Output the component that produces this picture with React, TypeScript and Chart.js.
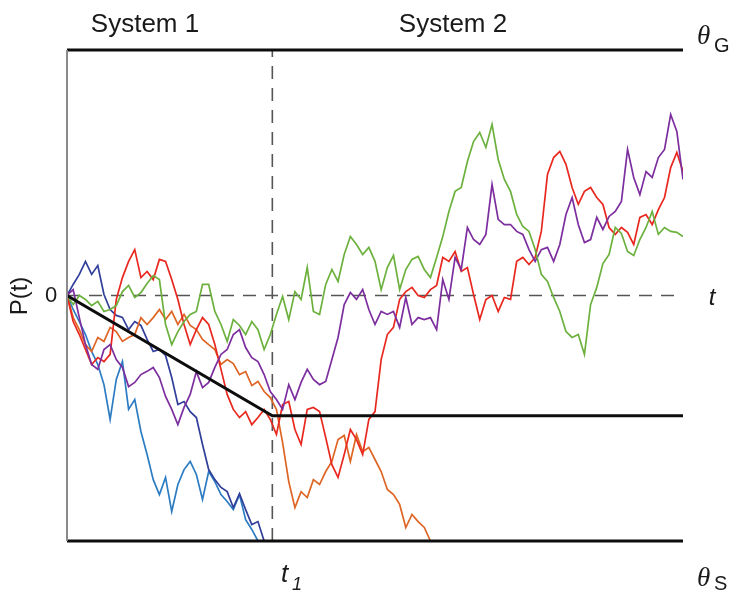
import React, { useEffect, useRef } from "react";
import { Chart, registerables } from "chart.js";

Chart.register(...registerables);

// Evidence P(t) sampled every STEP time units; thresholds at +/-100, switch at t1.
const STEP = 3;
const T_MAX = 300;
const T1 = 100;
const THETA = 100;
const BOUND_LEVEL = -49;

const lightBlue = [
  0, -5.7, -10.6, -15.9, -22.8, -28.1, -36.3, -50.5, -34.2, -26.9, -46.4, -42.4, -55.4, -64.8,
  -75, -81.1, -74.1, -88, -77, -70.9, -67.6, -72.9, -83.1, -71.7, -75.8, -81.1, -83.9, -87.2,
  -81.1, -91.3, -95.3, -100,
];

const darkBlue = [
  0, 4.5, 8.6, 13.9, 8.6, 12.2, 0.4, -5.7, -8.1, -8.9, -13.9, -10.6, -12.2, -17.9, -22.8, -22,
  -24.4, -33.4, -44.4, -43.2, -47.3, -49.7, -60.7, -70.9, -75, -78.2, -79.9, -86.4, -80.7, -87.2,
  -93.3, -92.1, -100,
];

const purple = [
  0, 2.4, -9, -20, -28.1, -30.1, -22, -20, -26.1, -29.3, -37.1, -35.4, -32.2, -30.9, -29.3, -33.4,
  -41.1, -46.4, -52.6, -45.6, -40.3, -31, -37.5, -35.4, -29.3, -24, -22, -15.9, -13.9, -21.2,
  -25.3, -26.9, -32.2, -39.1, -42.4, -46.4, -36.3, -42.4, -35.4, -30.1, -34.2, -36.3, -35, -26.1,
  -17.1, -3.7, 1.2, -1.6, 2.4, -5.7, -11.8, -6.5, -7.7, -6.5, -13, -0.8, -11.8, -9, -9.8, -9,
  -13.9, 6.5, -1.6, 15.5, 10.6, 27.7, 22.8, 20.8, 24.9, 45.2, 31, 28.9, 28.9, 26.1, 24.9, 18.7,
  13.9, 18.7, 19.6, 13.9, 20.8, 33, 39.9, 28.9, 21.6, 22.8, 31.8, 26.9, 32.2, 34.2, 38.3, 59.5,
  48.1, 41.1, 50.5, 48.1, 56.2, 59.5, 73.7, 66.8, 47.3,
];

const red = [
  0, -10.6, -15.9, -22, -28.1, -25.3, -26.9, -24, -1.6, 7.3, 13.9, 18.7, 7.3, 9.8, 6.5, 14.7,
  13.9, 6.5, -1.6, -11.8, -20, -13.9, -9, -11.8, -20, -30.1, -40.3, -46.4, -49.7, -47.3, -52.6,
  -49.7, -46.4, -50.5, -56.6, -44.4, -43.2, -54.6, -60.7, -46.4, -45.6, -47.3, -57.9, -68.9,
  -74.1, -64.8, -54.6, -58.7, -64.8, -50.5, -47.3, -26.1, -15.9, -13, -1.6, 1.6, 3.3, 0, -0.8,
  2.4, 4.1, 15.5, 13.9, 17.9, 9.8, 11.4, 0.4, -9.8, -1.6, 0, -6.5, -0.8, -1.6, 13.9, 15.5, 12.6,
  15.5, 26.1, 49.3, 56.2, 58.7, 53.4, 44, 37.1, 42.4, 44, 39.9, 37.1, 27.7, 24.9, 27.7, 25.7,
  20.8, 31.8, 33, 28.9, 35, 39.9, 52.1, 58.3, 50.5,
];

const orange = [
  0, -9, -13.9, -20, -22.8, -17.1, -18.7, -13, -14.7, -18.7, -17.1, -15.9, -9, -11.8, -9, -5.7,
  -9.8, -6.5, -11.8, -7.7, -12.2, -13.9, -17.9, -20, -22, -28.1, -26.1, -27.7, -32.2, -31, -36.7,
  -35, -39.1, -41.6, -46.4, -59.9, -75.8, -86.4, -79.9, -82.3, -75, -77, -71.7, -67.6, -58.7, -57,
  -67.6, -56.6, -63.6, -61.9, -66.8, -71.7, -79, -81.1, -85.1, -94.5, -89.2, -92.1, -94.5, -100,
];

const green = [
  0, -3.7, 0, -1.6, -4.1, -2.4, -6.5, -5.7, -4.1, 1.6, 4.1, -0.8, 1.2, 4.9, 8.1, 6.5, -11.8, -20,
  -14.7, -10.6, -7.7, -6.5, 4.5, 4.5, -6.5, -11.8, -18.7, -9.8, -12.2, -15.9, -10.6, -13.9, -22,
  -15.9, -7.7, -0.4, -9.8, 1.6, -1.6, 11.4, -6.5, -7.7, 4.5, 10.6, 5.7, 16.7, 24, 20.8, 16.7,
  19.6, 13.9, 2.4, 11.4, 16.3, 2.4, 10.6, 14.7, 15.9, 10.6, 7.3, 15.5, 24, 34.2, 42.4, 44, 54.6,
  62.7, 66.4, 60.3, 69.7, 55.4, 47.3, 42.4, 33, 28.1, 26.1, 18.7, 8.6, 5.7, -0.8, -6.5, -14.7,
  -17.1, -15.9, -24, -3.7, 3.3, 13, 16.7, 27.7, 25.3, 17.9, 16.3, 22.8, 27.7, 34.2, 24.9, 27.7,
  26.1, 25.7, 24,
];

const boundTimes = [0, T1, T_MAX];
const boundValues = [0, BOUND_LEVEL, BOUND_LEVEL];

const traces = [
  { values: lightBlue, color: "#2c7cc3" },
  { values: darkBlue, color: "#323f9a" },
  { values: orange, color: "#de6524" },
  { values: red, color: "#e8281f" },
  { values: purple, color: "#7c2e9e" },
  { values: green, color: "#6cb13e" },
];

const toPoints = (vals: number[]) => vals.map((y, i) => ({ x: i * STEP, y }));

const labelsPlugin = {
  id: "figureLabels",
  afterDraw(chart: Chart) {
    const { ctx, chartArea } = chart;
    ctx.save();
    // left axis line
    ctx.strokeStyle = "#8a8a8a";
    ctx.lineWidth = 2;
    ctx.beginPath();
    ctx.moveTo(chartArea.left, chartArea.top);
    ctx.lineTo(chartArea.left, chartArea.bottom);
    ctx.stroke();

    ctx.fillStyle = "#1a1a1a";
    const sans = "'Liberation Sans', Arial, sans-serif";
    const serif = "'Liberation Serif', 'Times New Roman', serif";

    ctx.textBaseline = "alphabetic";
    ctx.textAlign = "center";
    ctx.font = `26px ${sans}`;
    ctx.fillText("System 1", 145, 32);
    ctx.fillText("System 2", 453, 32);

    // theta_G / theta_S
    ctx.textAlign = "left";
    ctx.font = `italic 27px ${serif}`;
    ctx.fillText("θ", 697, 44);
    ctx.fillText("θ", 697, 586);
    ctx.font = `20px ${sans}`;
    ctx.fillText("G", 714, 52);
    ctx.fillText("S", 714, 590);

    // zero label and t label
    ctx.textAlign = "center";
    ctx.textBaseline = "middle";
    ctx.font = `22px ${sans}`;
    ctx.fillText("0", 51, 296);
    ctx.font = `italic 24px ${sans}`;
    ctx.fillText("t", 712, 298);

    // t1
    ctx.textAlign = "left";
    ctx.textBaseline = "alphabetic";
    ctx.font = `italic 26px ${sans}`;
    ctx.fillText("t", 281, 582);
    ctx.font = `italic 18px ${sans}`;
    ctx.fillText("1", 292, 590);

    // y label
    ctx.translate(20, 296);
    ctx.rotate(-Math.PI / 2);
    ctx.textAlign = "center";
    ctx.textBaseline = "middle";
    ctx.font = `24px ${sans}`;
    ctx.fillText("P(t)", 0, 0);
    ctx.restore();
  },
};

export default function App() {
  const canvasRef = useRef<HTMLCanvasElement | null>(null);

  useEffect(() => {
    if (!canvasRef.current) return;
    const datasets: any[] = [
      {
        data: [
          { x: 0, y: 0 },
          { x: T_MAX, y: 0 },
        ],
        borderColor: "#555555",
        borderWidth: 1.6,
        borderDash: [13, 9],
        order: 20,
      },
      {
        data: [
          { x: T1, y: -THETA },
          { x: T1, y: THETA },
        ],
        borderColor: "#555555",
        borderWidth: 1.6,
        borderDash: [13, 9],
        order: 20,
      },
      ...traces.map((t, k) => ({
        data: toPoints(t.values),
        borderColor: t.color,
        borderWidth: 1.7,
        order: 10 - k,
      })),
      {
        data: boundTimes.map((x, i) => ({ x, y: boundValues[i] })),
        borderColor: "#0d0d0d",
        borderWidth: 3,
        order: 0,
      },
      {
        data: [
          { x: 0, y: THETA },
          { x: T_MAX, y: THETA },
        ],
        borderColor: "#0d0d0d",
        borderWidth: 3,
        clip: false,
        order: 0,
      },
      {
        data: [
          { x: 0, y: -THETA },
          { x: T_MAX, y: -THETA },
        ],
        borderColor: "#0d0d0d",
        borderWidth: 3,
        clip: false,
        order: 0,
      },
    ];

    const chart = new Chart(canvasRef.current, {
      type: "line",
      data: { datasets },
      options: {
        animation: false,
        responsive: false,
        devicePixelRatio: 1,
        layout: { padding: { left: 67, right: 50, top: 50, bottom: 51 } },
        elements: { point: { radius: 0 }, line: { tension: 0 } },
        scales: {
          x: { type: "linear", min: 0, max: T_MAX, display: false },
          y: { type: "linear", min: -THETA, max: THETA, display: false },
        },
        plugins: { legend: { display: false }, tooltip: { enabled: false } },
      },
      plugins: [labelsPlugin],
    });
    return () => chart.destroy();
  }, []);

  return (
    <div style={{ position: "absolute", left: 0, top: 0, width: 733, height: 592, background: "#fff" }}>
      <canvas ref={canvasRef} width={733} height={592} />
    </div>
  );
}
